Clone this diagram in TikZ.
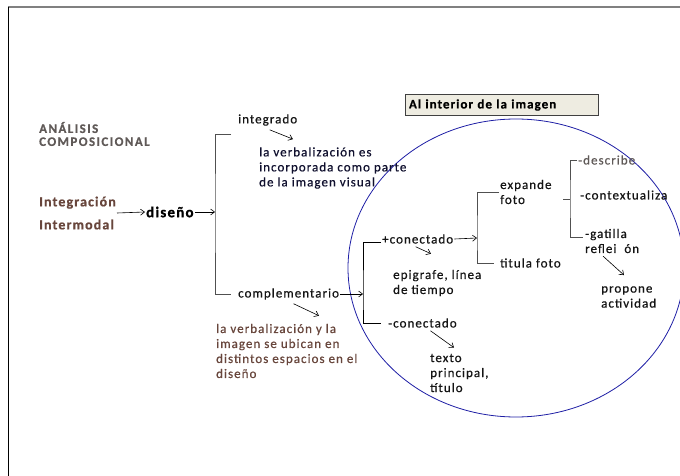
\documentclass[tikz,border=0pt]{standalone}
\usepackage{fontspec}
\setmainfont{Carlito}[LetterSpace=8, FakeBold=0.6]
\newfontfamily\headfont{Carlito}[LetterSpace=11, FakeBold=0.6]
\usepackage{tikz}
\usetikzlibrary{positioning, arrows.meta}
\definecolor{darktext}{RGB}{20,20,20}
\definecolor{navytext}{RGB}{16,16,46}
\definecolor{browntext}{RGB}{104,70,60}
\definecolor{headgray}{RGB}{96,90,88}
\definecolor{lensblue}{RGB}{30,30,165}
\definecolor{boxfill}{RGB}{238,236,225}
\definecolor{brackgray}{RGB}{80,80,80}
\tikzset{
	txt/.append style={
		anchor=west,
		align=left,
		inner sep=1pt,
		text=darktext,
		font={\fontsize{13}{15}\selectfont}
	},
	browntxt/.append style={
		txt,
		text=browntext
	},
	pointer/.append style={
		-{Straight Barb[length=4pt,width=6pt]},
		line width=0.6pt
	},
	brack/.append style={
		draw=brackgray,
		line width=0.9pt
	},
	labbox/.append style={
		draw=black!75,
		fill=boxfill,
		line width=0.8pt,
		align=left,
		text width=186pt,
		minimum height=21pt,
		font={\fontsize{13}{14}\selectfont\bfseries}
	}
}

\begin{document}
\begin{tikzpicture}[x=1pt, y=-1pt]
	\useasboundingbox (0,0) rectangle (680,476);
	% page edges
	\draw[gray, line width=1.5pt] (8,7) -- (680,7);
	\draw[black, line width=1pt] (8,7) -- (8,476);
	
	% lens round the inner part
	\draw[lensblue, line width=0.8pt] (516,268) ellipse [x radius=168pt, y radius=149pt];
	\node[labbox] (interior) at (502,105) {Al interior de la imagen};
	
	\node[txt, text=headgray, font={\headfont\fontsize{13}{13}\selectfont\bfseries}] (analisis) at (38,134) {ANÁLISIS\\COMPOSICIONAL};
	\node[browntxt, font={\fontsize{14}{23}\selectfont\bfseries}] (intmod) at (38,213) {Integración\\Intermodal};
	\node[txt, text=black, font={\fontsize{15}{15}\selectfont\bfseries}] (diseno) at (145,212) {diseño};
	\draw[pointer] (intmod.east) -- (diseno.west);
	
	% first split
	\coordinate (b1) at (215,212);
	\node[txt] (integ) at (237,120) {integrado};
	\node[txt, text=navytext] (integtxt) at (258,168) {la verbalización es\\incorporada como parte\\de la imagen visual};
	\node[txt] (compl) at (237,294) {complementario};
	\node[browntxt] (compltxt) at (215,351) {la verbalización y la\\imagen se ubican en\\distintos espacios en el\\diseño};
	\draw[pointer] (diseno.east) -- (b1);
	\draw[brack, shorten >=6pt] ([shift={(-6pt,-14pt)}]integ.west) -| (b1) |- (compl.west);
	\draw[pointer] ([shift={(2pt,-3pt)}]integ.south) -- ([shift={(35pt,7pt)}]integtxt.north west);
	\draw[pointer] ([shift={(5pt,-3pt)}]compl.south) -- ([shift={(104pt,7pt)}]compltxt.north west);
	
	% connected / not connected
	\coordinate (b2) at (363,297);
	\node[txt] (conec) at (381,239) {+conectado};
	\node[txt] (epig) at (392,283) {epigrafe, línea\\de tiempo};
	\node[txt] (desconec) at (387,323) {-conectado};
	\node[txt] (texto) at (429,373) {texto\\principal,\\título};
	\draw[pointer] (compl.east) -- (compl.east -| b2);
	\draw[brack, black, shorten >=6pt] ([yshift=-3pt]conec.west) -| (b2) |- (desconec.west);
	\draw[pointer] ([shift={(-2pt,-2pt)}]conec.south) -- ([shift={(39pt,15pt)}]epig.north west);
	\draw[pointer] ([shift={(8pt,-2pt)}]desconec.south) -- ([shift={(25pt,5pt)}]texto.north west);
	
	% photo side
	\coordinate (b3) at (477,238);
	\node[txt] (expande) at (499,192) {expande\\foto};
	\node[txt] (titula) at (499,263) {titula foto};
	\draw[pointer] (conec.east) -- (b3);
	\draw[brack, shorten >=5pt] (expande.west) -| (b3) |- (titula.west);
	
	\coordinate (b4) at (570,199);
	\node[txt, text=headgray] (describe) at (577,160) {-describe};
	\node[txt] (context) at (579,195) {-contextualiza};
	\node[txt] (gatilla) at (584,241) {-gatilla\\reflei\ \ ón};
	\node[txt] (propone) at (600,297) {propone\\actividad};
	\draw[brack, shorten >=1pt] (describe.west) -| (b4) |- ([yshift=4pt]gatilla.west);
	\draw[brack] ([xshift=-7pt]b4) -- (b4);
	\draw[pointer] ([shift={(-9pt,-2pt)}]gatilla.south) -- ([shift={(24pt,10pt)}]propone.north west);
\end{tikzpicture}
\end{document}
